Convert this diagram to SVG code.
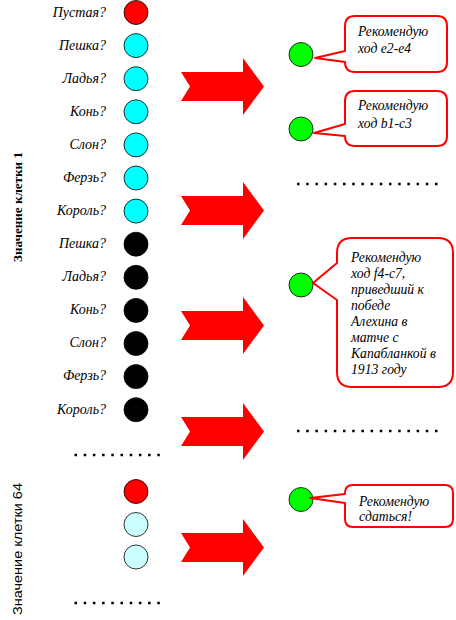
<svg xmlns="http://www.w3.org/2000/svg" width="456" height="620" viewBox="0 0 456 620">
<style>
.lbl{font-family:"Liberation Serif",serif;font-style:italic;font-size:14px;fill:#000;text-anchor:end}
.ct{font-family:"Liberation Serif",serif;font-style:italic;font-size:13.7px;fill:#000}
.c{stroke:#000;stroke-width:0.8}
.red{fill:#ff0000}
.cy{fill:#00ffff}
.lc{fill:#ccffff}
.bk{fill:#000}
.gr{fill:#00ff00}
.arrow{fill:#ff0000}
.bubble{fill:#fff;stroke:#ff0000;stroke-width:2;stroke-linejoin:round}
.dots{stroke:#000;stroke-width:2.5;stroke-dasharray:2.5 6.7}
</style>
<defs>
<path id="arr" d="M181,14 L243,14 L243,0 L264,28.5 L243,57 L243,43 L181,43 L190,28.5 Z"/>
</defs>
<g id="title1"><text transform="translate(22,207) rotate(-90)" text-anchor="middle" font-family="Liberation Serif, serif" font-weight="bold" font-size="13" textLength="110" lengthAdjust="spacingAndGlyphs">Значение клетки 1</text></g>
<g id="title64"><text transform="translate(22,549) rotate(-90)" text-anchor="middle" font-family="Liberation Sans, sans-serif" font-size="13" textLength="132" lengthAdjust="spacingAndGlyphs">Значение клетки 64</text></g>

<g id="cell1">
<g id="q-empty"><text class="lbl" x="106" y="17">Пустая?</text><circle class="c red" cx="136" cy="12.5" r="12"/></g>
<g id="q-wp"><text class="lbl" x="106" y="50">Пешка?</text><circle class="c cy" cx="136" cy="45.6" r="12"/></g>
<g id="q-wr"><text class="lbl" x="106" y="83">Ладья?</text><circle class="c cy" cx="136" cy="78.7" r="12"/></g>
<g id="q-wn"><text class="lbl" x="106" y="116">Конь?</text><circle class="c cy" cx="136" cy="111.8" r="12"/></g>
<g id="q-wb"><text class="lbl" x="106" y="149">Слон?</text><circle class="c cy" cx="136" cy="144.9" r="12"/></g>
<g id="q-wq"><text class="lbl" x="106" y="182">Ферзь?</text><circle class="c cy" cx="136" cy="178" r="12"/></g>
<g id="q-wk"><text class="lbl" x="106" y="215">Король?</text><circle class="c cy" cx="136" cy="211.1" r="12"/></g>
<g id="q-bp"><text class="lbl" x="106" y="248">Пешка?</text><circle class="c bk" cx="136" cy="244.2" r="12"/></g>
<g id="q-br"><text class="lbl" x="106" y="281">Ладья?</text><circle class="c bk" cx="136" cy="277.3" r="12"/></g>
<g id="q-bn"><text class="lbl" x="106" y="314">Конь?</text><circle class="c bk" cx="136" cy="310.4" r="12"/></g>
<g id="q-bb"><text class="lbl" x="106" y="347">Слон?</text><circle class="c bk" cx="136" cy="343.5" r="12"/></g>
<g id="q-bq"><text class="lbl" x="106" y="380">Ферзь?</text><circle class="c bk" cx="136" cy="376.6" r="12"/></g>
<g id="q-bk"><text class="lbl" x="106" y="414">Король?</text><circle class="c bk" cx="136" cy="409.7" r="12"/></g>
</g>

<g id="cell64">
<circle class="c red" cx="136" cy="491.5" r="12"/>
<circle class="c lc" cx="136" cy="524.5" r="12"/>
<circle class="c lc" cx="136" cy="557" r="12"/>
</g>

<g id="ellipsis">
<line class="dots" x1="74.5" y1="455" x2="160" y2="455"/>
<line class="dots" x1="74.5" y1="603" x2="160" y2="603"/>
<line class="dots" x1="297" y1="184" x2="440" y2="184"/>
<line class="dots" x1="297" y1="431" x2="440" y2="431"/>
</g>

<g id="connectors">
<use href="#arr" class="arrow" y="58"/>
<use href="#arr" class="arrow" y="182"/>
<use href="#arr" class="arrow" y="297"/>
<use href="#arr" class="arrow" y="403"/>
<use href="#arr" class="arrow" y="519"/>
</g>

<g id="out1">
<circle class="c gr" cx="301" cy="54.5" r="12"/>
<path class="bubble" d="M355,16 H437 Q447,16 447,26 V62 Q447,72 437,72 H355 Q345,72 345,62 L315,58 L345,51 V26 Q345,16 355,16 Z"/>
<text class="ct" x="358" y="36">Рекомендую</text>
<text class="ct" x="358" y="53">ход e2-e4</text>
</g>
<g id="out2">
<circle class="c gr" cx="301" cy="129" r="12"/>
<path class="bubble" d="M355,91 H437 Q447,91 447,101 V136 Q447,146 437,146 H355 Q345,146 345,136 L314,133 L345,124 V101 Q345,91 355,91 Z"/>
<text class="ct" x="358" y="110">Рекомендую</text>
<text class="ct" x="358" y="128">ход b1-c3</text>
</g>
<g id="out3">
<circle class="c gr" cx="301" cy="285" r="12"/>
<path class="bubble" d="M352,238 H438 Q453,238 453,253 V372 Q453,387 438,387 H352 Q337,387 337,372 V300 L313,283 L337,263 V253 Q337,238 352,238 Z"/>
<text class="ct" x="351" y="262">Рекомендую</text>
<text class="ct" x="351" y="278">ход f4-c7,</text>
<text class="ct" x="351" y="294">приведший к</text>
<text class="ct" x="351" y="310">победе</text>
<text class="ct" x="351" y="326">Алехина в</text>
<text class="ct" x="351" y="342">матче с</text>
<text class="ct" x="351" y="358">Капабланкой в</text>
<text class="ct" x="351" y="374">1913 году</text>
</g>
<g id="out4">
<circle class="c gr" cx="301" cy="499.5" r="12"/>
<path class="bubble" d="M353,485 H445 Q453,485 453,493 V519 Q453,527 445,527 H353 Q345,527 345,519 V503 L310,498 L345,494 V493 Q345,485 353,485 Z"/>
<text class="ct" x="359" y="506">Рекомендую</text>
<text class="ct" x="359" y="521">сдаться!</text>
</g>
</svg>
